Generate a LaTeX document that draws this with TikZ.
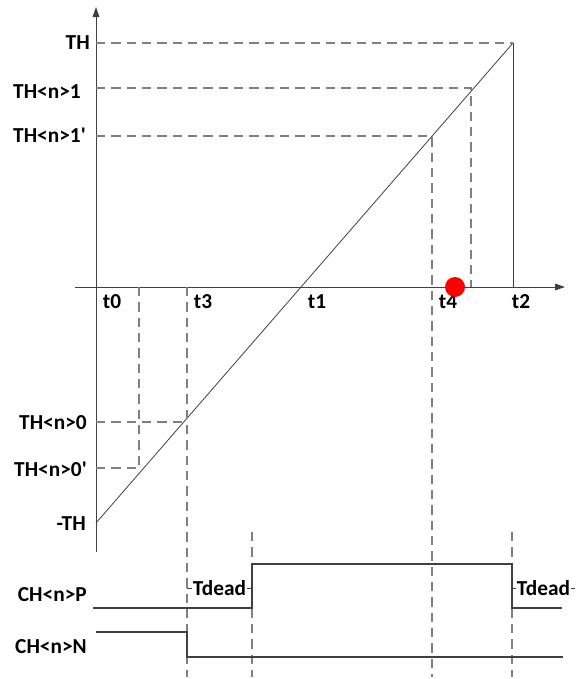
\documentclass[tikz,border=0pt]{standalone}
\usepackage{fontspec}
\setmainfont{Carlito}
\usetikzlibrary{arrows.meta,positioning}

\begin{document}
\begin{tikzpicture}[x=0.75pt,y=0.75pt,yscale=-1,xscale=1,
	axisline/.style={color={rgb, 255:red, 64; green, 64; blue, 64 },line width=0.75},
	guide/.style={color={rgb, 255:red, 128; green, 128; blue, 128 },line width=0.9,dash pattern={on 7pt off 4.5pt}},
	wave/.style={color={rgb, 255:red, 64; green, 64; blue, 64 },line width=0.9},
	lbl/.style={anchor=east,inner sep=0.75pt,font=\bfseries\fontsize{16}{19}\selectfont},
	tlbl/.style={inner sep=0.75pt,font=\bfseries\fontsize{16}{19}\selectfont},
	deadlbl/.style={fill=white,text=black,inner sep=0.5pt,font=\bfseries\fontsize{16}{19}\selectfont}]
	\useasboundingbox (0,0) rectangle (576,679);
	
	% key points
	\coordinate (O) at (96,287);
	\coordinate (lo) at (96,523);
	\coordinate (hi) at (513,43);
	\coordinate (t2axis) at (513,287);
	
	%Shape: Axis 2D
	\draw [axisline,-{Triangle[length=7.5pt,width=5pt]}] (75,287) -- (565,287);
	\draw [axisline,-{Triangle[length=7.5pt,width=5pt]}] (96,552) -- (96,7);
	
	%Straight Lines: ramp and fall
	\draw [color={rgb, 255:red, 64; green, 64; blue, 64 },line width=0.6] (lo) -- (hi);
	\draw [axisline] (hi) -- (t2axis);
	
	%Dashed guides
	\draw [guide] (96,43) -- (hi);
	\draw [guide] (96,88) -- (471,88) -- (471,287);
	\draw [guide] (96,136) -- (432,136) -- (432,677);
	\draw [guide] (96,422) -- (187,422);
	\draw [guide] (187,287) -- (187,677);
	\draw [guide] (96,468) -- (139,468) -- (139,287);
	\draw [guide] (252,532) -- (252,677);
	\draw [guide] (512,532) -- (512,677);
	
	%Waveforms
	\draw [wave] (93,608) -- (252,608) -- (252,564) -- (512,564) -- (512,608) -- (562,608);
	\draw [wave] (96,632) -- (187,632) -- (187,657) -- (563,657);
	
	% Text Node
	\draw (91,43) node [lbl] (th) {TH};
	\draw (82,92) node [lbl] (th1) {TH<n>1};
	\draw (87,135) node [lbl] (th1p) {TH<n>1\textquotesingle};
	\draw (88,423) node [lbl] (th0) {TH<n>0};
	\draw (88,469) node [lbl] (th0p) {TH<n>0\textquotesingle};
	\draw (87,524) node [lbl] (mth) {-TH};
	\draw (88,595) node [lbl] (chp) {CH<n>P};
	\draw (88,647) node [lbl] (chn) {CH<n>N};
	% Text Node
	\draw (112,302) node [tlbl] (t0) {t0};
	\draw (203,302) node [tlbl] (t3) {t3};
	\draw (317,302) node [tlbl] (t1) {t1};
	\draw (448,302) node [tlbl] (t4) {t4};
	\draw (521,302) node [tlbl] (t2) {t2};
	
	%Dead time marks
	\draw [axisline] (187,588) -- (252,588) node [deadlbl,midway] (dead1) {Tdead};
	\draw [axisline] (512,588) -- (575,588) node [deadlbl,midway] (dead2) {Tdead};
	
	% red marker
	\fill [color={rgb, 255:red, 255; green, 0; blue, 0 }] (455,287) circle (7.5pt);
	
\end{tikzpicture}
\end{document}
